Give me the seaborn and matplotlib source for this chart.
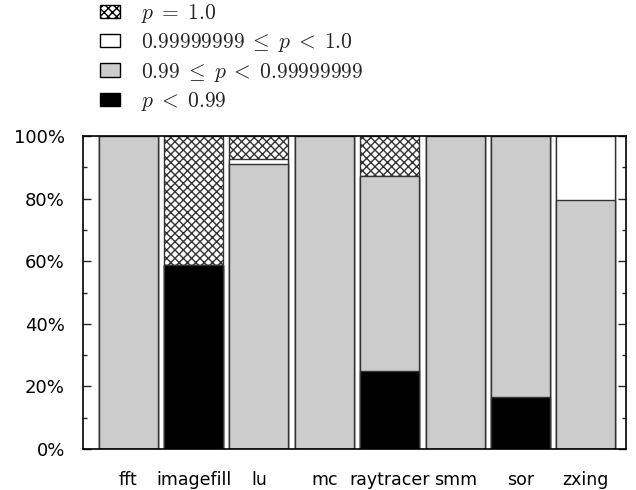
import matplotlib
matplotlib.use("Agg")
import matplotlib.pyplot as plt
from matplotlib.patches import Patch
from matplotlib.ticker import MultipleLocator, PercentFormatter
import seaborn as sns
import pandas as pd
import numpy as np

benchmarks = ["fft", "imagefill", "lu", "mc", "raytracer", "smm", "sor", "zxing"]
# shares in percent, bottom to top
p_low = [0, 58.8, 0, 0, 24.9, 0, 16.6, 0]            # p < 0.99
p_mid = [100, 0, 91.0, 100, 62.3, 100, 83.4, 79.6]   # 0.99 <= p < 0.99999999
p_high = [0, 0, 1.6, 0, 0, 0, 0, 20.4]               # 0.99999999 <= p < 1.0
p_one = [0, 41.2, 7.4, 0, 12.8, 0, 0, 0]             # p = 1.0

sns.set_style("ticks")
plt.rcParams["mathtext.fontset"] = "cm"
plt.rcParams["hatch.linewidth"] = 1.0
plt.rcParams["font.family"] = ["DejaVu Sans"]

df = pd.DataFrame({"bench": benchmarks, "low": p_low, "mid": p_mid,
                   "high": p_high, "one": p_one})
df["c1"] = df["low"]
df["c2"] = df["c1"] + df["mid"]
df["c3"] = df["c2"] + df["high"]
df["c4"] = df["c3"] + df["one"]

fig = plt.figure(figsize=(6.36, 4.9), dpi=100)
ax = fig.add_axes([0.1305, 0.0837, 0.8535, 0.6387])

layers = [("c4", "white", "xxxx"), ("c3", "white", None),
          ("c2", "#cccccc", None), ("c1", "black", None)]
for col, color, hatch in layers:
    sns.barplot(data=df, x="bench", y=col, color=color, saturation=1,
                width=0.9, edgecolor="#333333", linewidth=1.0,
                hatch=hatch, ax=ax, errorbar=None)

ax.set_xlim(-0.69, 7.61)
ax.set_ylim(0, 100)
ax.yaxis.set_major_locator(MultipleLocator(20))
ax.yaxis.set_minor_locator(MultipleLocator(10))
ax.yaxis.set_major_formatter(PercentFormatter(decimals=0))
ax.tick_params(axis="y", which="both", direction="in", right=True,
               labelsize=13, width=1, labelcolor="black", pad=13)
ax.tick_params(axis="y", which="major", length=6)
ax.tick_params(axis="y", which="minor", length=3)
ax.tick_params(axis="x", length=0, labelsize=12.5, pad=16, labelcolor="black")
ax.set_xlabel("")
ax.set_ylabel("")
for s in ax.spines.values():
    s.set_visible(True)
    s.set_linewidth(1.2)
    s.set_color("black")

handles = [Patch(facecolor="white", edgecolor="black", hatch="xxxx"),
           Patch(facecolor="white", edgecolor="black"),
           Patch(facecolor="#cccccc", edgecolor="black"),
           Patch(facecolor="black", edgecolor="black")]
labels = [r"$p\;=\;1.0$", r"$0.99999999\;\leq\;p\;<\;1.0$",
          r"$0.99\;\leq\;p\;<\;0.99999999$", r"$p\;<\;0.99$"]
fig.legend(handles, labels, loc="upper left", bbox_to_anchor=(0.127, 1.036),
           frameon=False, fontsize=15.5, handlelength=0.93, handleheight=0.56,
           labelspacing=0.3, handletextpad=0.95)

plt.savefig("out.png", dpi=100)
